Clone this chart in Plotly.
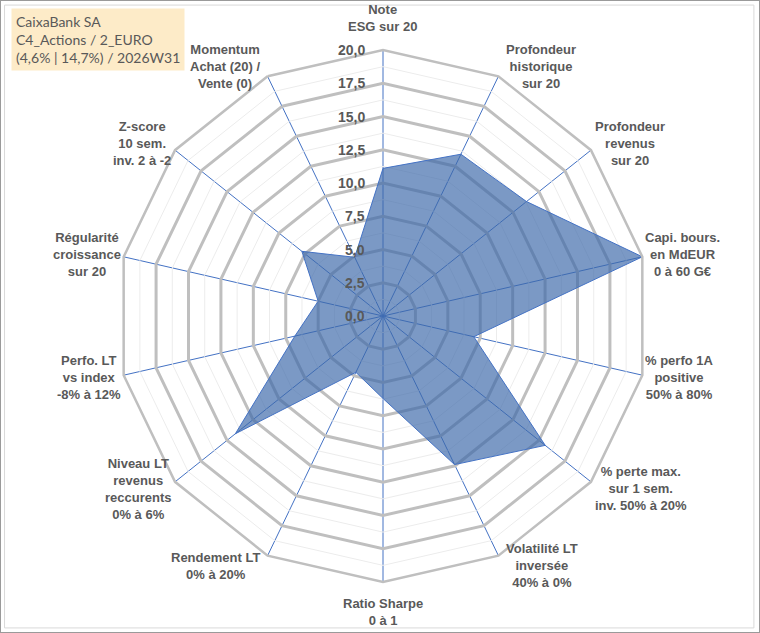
import math
import plotly.graph_objects as go

# Axes of the radar, clockwise from the top
categories = [
    "Note<br>ESG sur 20",
    "Profondeur<br>historique<br>sur 20",
    "Profondeur<br>revenus<br>sur 20",
    "Capi. bours.<br>en MdEUR<br>0 à 60 G€",
    "% perfo 1A<br>positive<br>50% à 80%",
    "% perte max.<br>sur 1 sem.<br>inv. 50% à 20%",
    "Volatilité LT<br>inversée<br>40% à 0%",
    "Ratio Sharpe<br>0 à 1",
    "Rendement LT<br>0% à 20%",
    "Niveau LT<br>revenus<br>reccurents<br>0% à 6%",
    "Perfo. LT<br>vs index<br>-8% à 12%",
    "Régularité<br>croissance<br>sur 20",
    "Z-score<br>10 sem.<br>inv. 2 à -2",
    "Momentum<br>Achat (20) /<br>Vente (0)",
]
scores = [11.1, 13.5, 13.8, 20.0, 7.0, 15.6, 12.4, 6.2, 4.7, 14.2, 6.8, 5.0, 7.8, 4.9]

radial_ticks = [0, 2.5, 5, 7.5, 10, 12.5, 15, 17.5, 20]
minor_rings = [1.25, 3.75, 6.25, 8.75, 11.25, 13.75, 16.25, 18.75]
r_max = 20

title_lines = ["CaixaBank SA", "C4_Actions / 2_EURO", "(4,6% | 14,7%) / 2026W31"]

grey_txt = "#595959"
W, H = 760, 633
cx, cy, R = 383, 316, 266  # polar centre and radius, px
squeeze = 0.964  # the original picture is a bit narrower than tall

fig = go.Figure()

# light minor grid rings
for k in minor_rings:
    fig.add_trace(go.Scatterpolar(
        r=[k] * (len(categories) + 1),
        theta=categories + categories[:1],
        mode="lines",
        line=dict(color="#ececec", width=1),
        hoverinfo="skip",
        showlegend=False,
    ))

fig.add_trace(go.Scatterpolar(
    r=scores + scores[:1],
    theta=categories + categories[:1],
    mode="lines",
    fill="toself",
    fillcolor="rgba(60,105,170,0.68)",
    line=dict(color="#4472C4", width=1),
    showlegend=False,
))

annotations = []

# category labels placed Excel-like around the outer ring
n = len(categories)
for i, lab in enumerate(categories):
    a = math.radians(i * 360 / n)
    s, c = math.sin(a), math.cos(a)
    vx = cx + R * s * squeeze
    vy = cy - R * c
    if abs(s) < 0.1:
        xanchor, xshift = "center", 0
        yanchor = "bottom" if c > 0 else "top"
        yshift = 14 if c > 0 else -12
    else:
        xanchor = "left" if s > 0 else "right"
        xshift = 10 if s > 0 else -10
        yanchor = "middle"
        yshift = 11 * c
    annotations.append(dict(
        text=lab, x=vx / W, y=1 - vy / H, xref="paper", yref="paper",
        xanchor=xanchor, yanchor=yanchor, xshift=xshift, yshift=yshift,
        align="center", showarrow=False,
        font=dict(family="Liberation Sans", size=13, color=grey_txt, weight="bold"),
    ))

# radial value labels, left of the top spoke
for v in radial_ticks:
    annotations.append(dict(
        text=f"{v:.1f}".replace(".", ","),
        x=(cx - 16) / W, y=1 - (cy - R * v / r_max) / H,
        xref="paper", yref="paper", xanchor="right", yanchor="middle",
        showarrow=False,
        font=dict(family="Liberation Sans", size=14, color=grey_txt, weight="bold"),
    ))

annotations.append(dict(
    text="<br>".join(title_lines),
    xref="paper", yref="paper", x=0.014, y=0.988,
    xanchor="left", yanchor="top", align="left",
    showarrow=False,
    bgcolor="#FDEBC8",
    borderpad=4,
    font=dict(family="Lato", size=14, color=grey_txt),
))

fig.update_layout(
    width=W,
    height=H,
    margin=dict(l=0, r=0, t=0, b=0),
    paper_bgcolor="white",
    polar=dict(
        domain=dict(x=[(cx - R) / W, (cx + R) / W], y=[1 - (cy + R) / H, 1 - (cy - R) / H]),
        bgcolor="white",
        gridshape="linear",
        angularaxis=dict(
            rotation=90,
            direction="clockwise",
            gridcolor="#4472C4",
            gridwidth=1,
            linecolor="#bfbfbf",
            linewidth=2.5,
            showticklabels=False,
            ticks="",
        ),
        radialaxis=dict(
            range=[0, r_max],
            tickvals=radial_ticks,
            angle=90,
            showticklabels=False,
            showline=False,
            ticks="",
            gridcolor="#bfbfbf",
            gridwidth=2.5,
        ),
    ),
    shapes=[
        dict(type="rect", xref="paper", yref="paper", x0=0, y0=0, x1=1, y1=1,
             line=dict(color="#9a9a9a", width=2)),
        dict(type="rect", xref="paper", yref="paper", x0=0.006, y0=0.008, x1=0.992, y1=0.992,
             line=dict(color="#d9d9d9", width=1)),
    ],
    annotations=annotations,
)

# drop the page's default body margin so the figure sits at the window's corner
fig.write_html("out.html", config={"displayModeBar": False},
               post_script="document.body.style.margin='0';")
